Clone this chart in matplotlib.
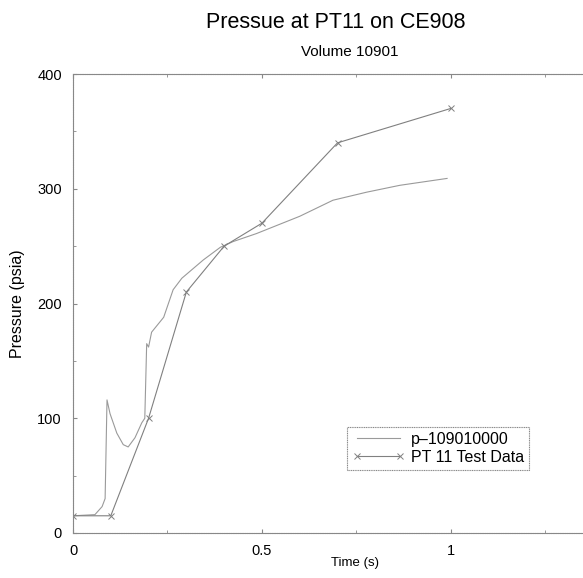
#!/usr/bin/env python3
import matplotlib
matplotlib.use('Agg')

import matplotlib.pyplot as plt
from matplotlib.ticker import MultipleLocator

plt.rcParams['font.family'] = ['Liberation Sans', 'DejaVu Sans']

# p-109010000 model curve
model_t = [0.0, 0.058, 0.077, 0.085, 0.09, 0.098, 0.116, 0.133, 0.146, 0.164,
           0.182, 0.19, 0.195, 0.2, 0.208, 0.24, 0.265, 0.288, 0.345, 0.39,
           0.424, 0.486, 0.6, 0.688, 0.777, 0.865, 0.99]
model_p = [15, 16, 23, 30, 116, 104, 87, 77, 75, 83,
           96, 100, 165, 162, 175, 188, 212, 222, 238, 249,
           254, 261, 276, 290, 297, 303, 309]

# PT 11 test data
test_t = [0.0, 0.1, 0.2, 0.3, 0.4, 0.5, 0.7, 1.0]
test_p = [15, 15, 100, 210, 250, 270, 340, 370]

W, H = 583, 578
fig = plt.figure(figsize=(W / 100, H / 100), dpi=100)
# the scanned axes run off the right edge of the page (xlim 0..1.4)
left, right, top, bottom = 73, 602, 74, 533
ax = fig.add_axes([left / W, 1 - bottom / H, (right - left) / W, (bottom - top) / H])

ax.plot(model_t, model_p, color='#9a9a9a', lw=0.8, label='p\u2013109010000')
ax.plot(test_t, test_p, color='#808080', lw=0.8, marker='x', ms=5, mew=0.7,
        label='PT 11 Test Data')

ax.set_xlim(0, 1.4)
ax.set_ylim(0, 400)
ax.xaxis.set_minor_locator(MultipleLocator(0.25))
ax.yaxis.set_major_locator(MultipleLocator(100))
ax.yaxis.set_minor_locator(MultipleLocator(50))
ax.set_xticks([0, 0.5, 1])
ax.set_xticklabels(['0', '0.5', '1'])
ax.tick_params(which='both', direction='in', top=True, right=False,
               color='#888888', labelsize=10.5, pad=8)
ax.tick_params(which='major', length=3)
ax.tick_params(which='minor', length=2)
for side in ['left', 'bottom', 'top']:
    ax.spines[side].set_color('#888888')
    ax.spines[side].set_linewidth(0.8)
    ax.spines[side].set_linestyle((0, (1, 0.6)))
ax.spines['right'].set_visible(False)

fig.text(336 / W, 1 - 22 / H, 'Pressue at PT11 on CE908', ha='center', va='center', fontsize=15.5)
fig.text(350 / W, 1 - 52 / H, 'Volume 10901', ha='center', va='center', fontsize=11)
fig.text(355 / W, 1 - 563 / H, 'Time (s)', ha='center', va='center', fontsize=9.5)
fig.text(18 / W, 1 - 304 / H, 'Pressure (psia)', ha='center', va='center',
         rotation=90, fontsize=11.5)

leg = ax.legend(loc='upper left', bbox_to_anchor=(347 / W, 1 - 427 / H),
                bbox_transform=fig.transFigure, fontsize=11.5, numpoints=2,
                handlelength=3.3, handletextpad=0.4, borderpad=0.3,
                labelspacing=0.2, fancybox=False, framealpha=1,
                edgecolor='#888888', borderaxespad=0)
leg.get_frame().set_linewidth(0.8)
leg.get_frame().set_linestyle((0, (1, 0.6)))

fig.savefig('out.png', dpi=100)
plt.close(fig)
